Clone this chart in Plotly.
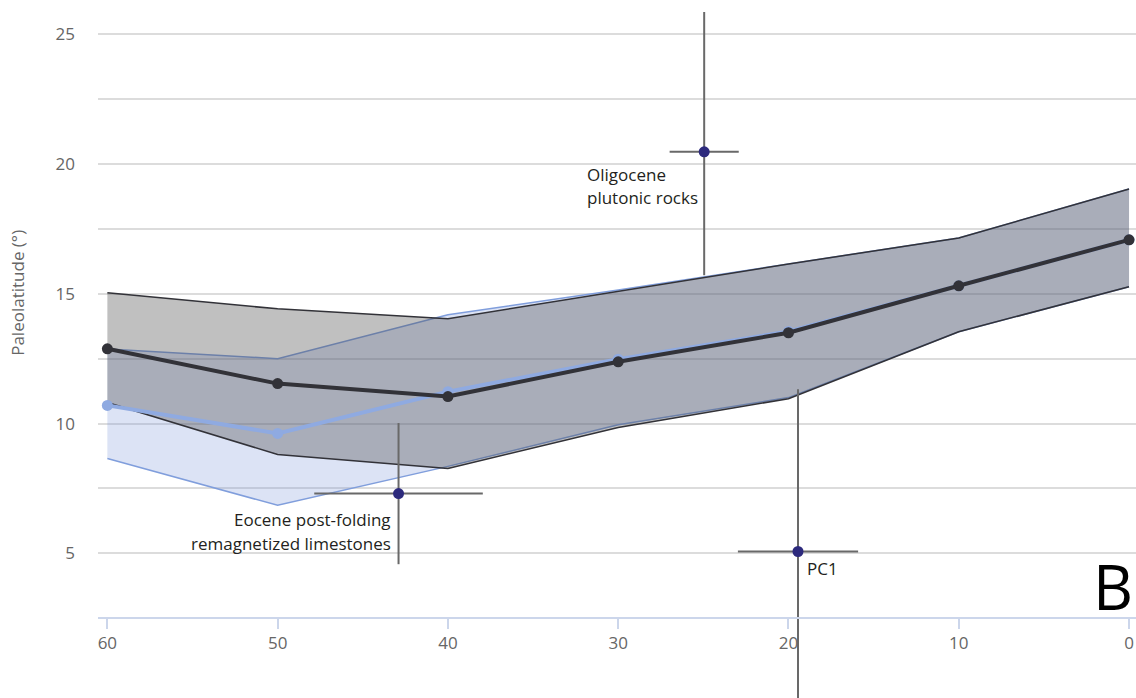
import plotly.graph_objects as go

# Reference path (black) — paleolatitude envelope through time
ages = [60, 50, 40, 30, 20, 10, 0]
black_mean = [12.88, 11.54, 11.04, 12.38, 13.50, 15.31, 17.08]
black_upper = [15.04, 14.42, 14.04, 15.10, 16.15, 17.15, 19.04]
black_lower = [10.81, 8.81, 8.27, 9.85, 10.96, 13.54, 15.27]

# Alternative path (blue); it joins the reference path after 20 Ma
blue_mean = [10.70, 9.62, 11.23, 12.48, 13.55, 15.31, 17.08]
blue_upper = [12.87, 12.50, 14.19, 15.15, 16.15, 17.15, 19.04]
blue_lower = [8.65, 6.85, 8.35, 9.95, 11.00, 13.54, 15.27]

# Paleomagnetic results with age and latitude uncertainties
site_names = ["Eocene post-folding remagnetized limestones", "Oligocene plutonic rocks", "PC1"]
site_age = [42.9, 24.95, 19.44]
site_age_err = [4.95, 2.03, 3.53]
site_lat = [7.30, 20.47, 5.07]
site_lat_err_plus = [2.72, 5.40, 6.25]
site_lat_err_minus = [2.72, 4.75, 6.25]

x_ticks = [60, 50, 40, 30, 20, 10, 0]
y_ticks = [5, 7.5, 10, 12.5, 15, 17.5, 20, 22.5, 25]
y_ticktext = ["5", "", "10", "", "15", "", "20", "", "25"]

BLUE_FILL = "rgba(118,148,215,0.26)"
BLUE_EDGE = "rgb(128,158,220)"
BLUE_LINE = "rgb(143,170,225)"
DARK = "rgb(50,50,56)"
DARK_FILL = "rgba(70,70,70,0.34)"
BAR = "rgb(105,105,105)"
POINT = "rgb(45,42,125)"
FONT = "Open Sans"
AXIS_TEXT = "rgb(102,102,102)"

fig = go.Figure()

# Blue envelope
fig.add_trace(go.Scatter(x=ages, y=blue_lower, mode="lines",
                         line=dict(color=BLUE_EDGE, width=1.5), hoverinfo="skip"))
fig.add_trace(go.Scatter(x=ages, y=blue_upper, mode="lines", fill="tonexty",
                         fillcolor=BLUE_FILL, line=dict(color=BLUE_EDGE, width=1.5),
                         hoverinfo="skip"))

# Black envelope
fig.add_trace(go.Scatter(x=ages, y=black_lower, mode="lines",
                         line=dict(color=DARK, width=1.5), hoverinfo="skip"))
fig.add_trace(go.Scatter(x=ages, y=black_upper, mode="lines", fill="tonexty",
                         fillcolor=DARK_FILL, line=dict(color=DARK, width=1.5),
                         hoverinfo="skip"))

# Mean paths
fig.add_trace(go.Scatter(x=ages, y=blue_mean, mode="lines+markers",
                         line=dict(color=BLUE_LINE, width=4),
                         marker=dict(color=BLUE_LINE, size=11)))
fig.add_trace(go.Scatter(x=ages, y=black_mean, mode="lines+markers",
                         line=dict(color=DARK, width=4),
                         marker=dict(color=DARK, size=11)))

# Sites with error bars
fig.add_trace(go.Scatter(
    x=site_age, y=site_lat, mode="markers", text=site_names,
    marker=dict(color=POINT, size=11),
    error_x=dict(type="data", array=site_age_err, color=BAR, thickness=2, width=0),
    error_y=dict(type="data", array=site_lat_err_plus, arrayminus=site_lat_err_minus,
                 symmetric=False, color=BAR, thickness=2, width=0),
))

txt = dict(family=FONT, size=17, color="rgb(35,31,32)")
ann = [
    dict(x=31.95, y=19.6, text="Oligocene", xanchor="left", yanchor="middle"),
    dict(x=31.95, y=18.7, text="plutonic rocks", xanchor="left", yanchor="middle"),
    dict(x=43.2, y=6.3, text="Eocene post-folding", xanchor="right", yanchor="middle"),
    dict(x=43.2, y=5.38, text="remagnetized limestones", xanchor="right", yanchor="middle"),
    dict(x=19.05, y=4.42, text="PC1", xanchor="left", yanchor="middle"),
]
for a in ann:
    fig.add_annotation(xref="x", yref="y", showarrow=False, font=txt, **a)

fig.add_annotation(xref="paper", yref="paper", x=0.9995, y=0.0996, text="B",
                   xanchor="right", yanchor="bottom", showarrow=False,
                   font=dict(family=FONT, size=62, color="black"))

fig.add_annotation(xref="paper", yref="paper", x=-0.0775, y=0.59,
                   text="Paleolatitude (°)", textangle=-90, showarrow=False,
                   xanchor="center", yanchor="middle",
                   font=dict(family=FONT, size=17, color=AXIS_TEXT))

fig.update_layout(
    width=1136, height=698,
    margin=dict(l=98, r=0, t=12, b=0),
    paper_bgcolor="white", plot_bgcolor="white",
    showlegend=False,
    xaxis=dict(
        range=[60.55, -0.41], tickvals=x_ticks, showgrid=False, zeroline=False,
        anchor="free", position=0.117,
        showline=True, linecolor="rgb(204,214,235)", linewidth=2,
        ticks="outside", ticklen=10, tickwidth=1.5, tickcolor="rgb(204,214,235)",
        tickfont=dict(family=FONT, size=17, color=AXIS_TEXT),
    ),
    yaxis=dict(
        range=[-0.576, 25.86], tickvals=y_ticks, ticktext=y_ticktext,
        showgrid=True, gridcolor="rgb(220,220,220)", gridwidth=2,
        zeroline=False, showline=False, ticks="", ticklabelstandoff=22,
        tickfont=dict(family=FONT, size=17, color=AXIS_TEXT),
    ),
)

fig.write_html("out.html")
